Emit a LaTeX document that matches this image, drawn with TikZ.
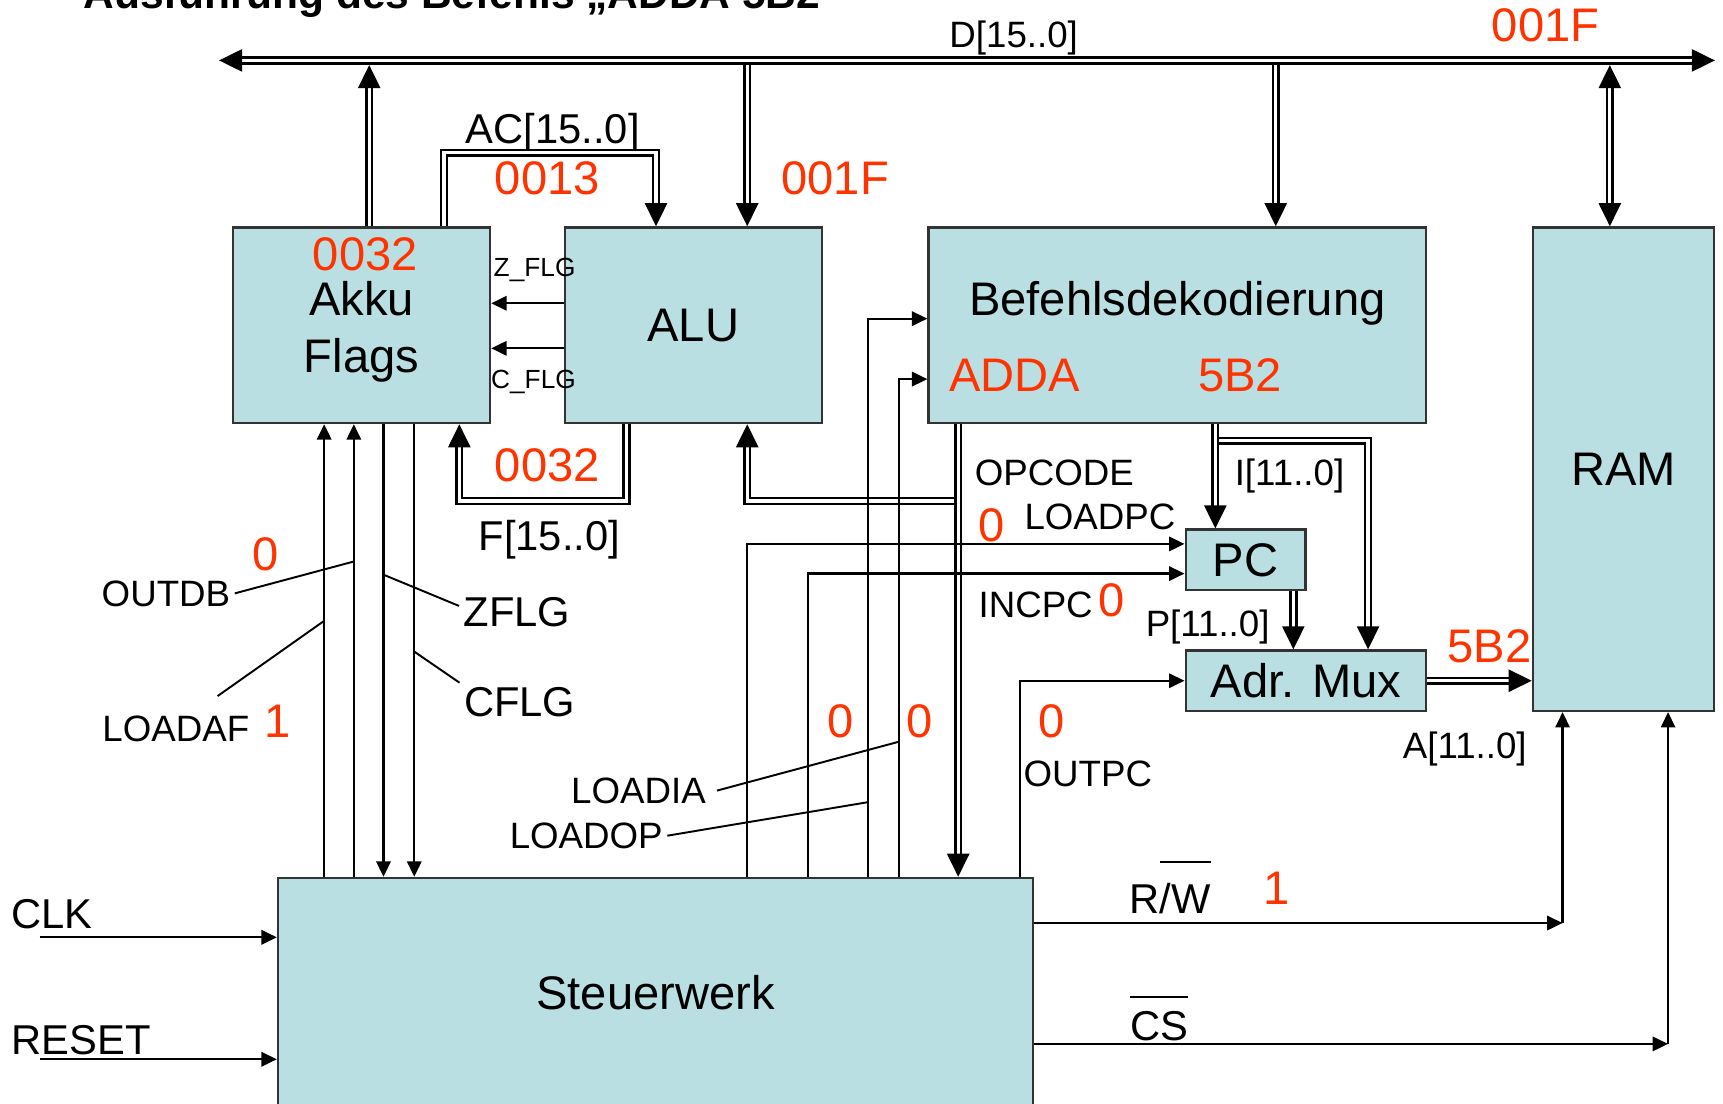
\documentclass[tikz,border=0pt]{standalone}
\usepackage{fontspec}
\setmainfont{Liberation Sans}
\usepackage{tikz}
\usetikzlibrary{arrows.meta, calc}

\definecolor{boxfill}{RGB}{185,223,226}
\definecolor{valred}{RGB}{255,51,0}

\newlength{\ovlwd}
\newcommand{\ovl}[2]{\settowidth{\ovlwd}{#2}\rlap{\rule[#1]{\ovlwd}{0.5pt}}#2}

\begin{document}
\begin{tikzpicture}[
			x=0.1mm, y=-0.1mm,
			every node/.style={inner sep=1pt},
			blk/.style={
				rectangle, draw=black!80, fill=boxfill, line width=0.6pt,
				inner sep=0pt, font=\fontsize{12.2}{14.7}\selectfont
			},
			big/.style={font=\fontsize{12.2}{14.7}\selectfont},
			mid/.style={font=\fontsize{10.8}{13}\selectfont},
			sml/.style={font=\fontsize{9.5}{11.4}\selectfont},
			tny/.style={font=\fontsize{6.8}{8.2}\selectfont},
			lbl/.style={anchor=base},
			val/.style={big, lbl, text=valred},
			busline/.style={double, line width=0.65pt, double distance=0.85pt},
			bus/.style={busline, -{Triangle[length=2.1mm,width=2mm]}},
			busboth/.style={busline, {Triangle[length=2.1mm,width=2mm]}-{Triangle[length=2.1mm,width=2mm]}},
			sig/.style={line width=0.6pt, -{Triangle[length=1.4mm,width=1.3mm]}},
			lead/.style={line width=0.5pt}
			]
			
			\useasboundingbox (0,0) rectangle (1568,1004);
			\clip (0,0) rectangle (1568,1004);
			
			% title, cut at the top edge
			\node[anchor=base west, font=\bfseries\fontsize{11}{13}\selectfont] (title) at (72,8) {Ausführung des Befehls „ADDA 5B2};
			
			% blocks
			\node[inner sep=0pt, minimum width=136mm, minimum height=0.7mm] (bus) at (880,55) {};
			\node[blk, minimum width=23.4mm, minimum height=17.8mm] (akku) at (329,296) {};
			\node[blk, minimum width=23.4mm, minimum height=17.8mm] (alu) at (631,296) {ALU};
			\node[blk, minimum width=45.3mm, minimum height=17.8mm] (dec) at (1071.5,296) {};
			\node[blk, minimum width=16.5mm, minimum height=44mm] (ram) at (1477.5,427) {RAM};
			\node[blk, minimum width=10.9mm, minimum height=5.5mm] (pc) at (1133.5,509.5) {PC};
			\node[blk, minimum width=21.9mm, minimum height=5.5mm] (mux) at (1188.5,619.5) {Adr. Mux};
			\node[blk, minimum width=68.7mm, minimum height=20.9mm] (stw) at (596.5,903.5) {Steuerwerk};
			
			\node[big, lbl] (akkutxt) at (329,287) {Akku};
			\node[big, lbl] (flagtxt) at (329,339) {Flags};
			\node[val] (akkuval) at (332.5,246) {0032};
			\node[big, lbl] (dectxt) at (1071.5,287) {Befehlsdekodierung};
			\node[val] (opval) at (923.5,356) {ADDA};
			\node[val] (adrval) at (1128.5,356) {5B2};
			
			% bus labels and values
			\node[sml, lbl] (dlbl) at (922.5,43) {D[15..0]};
			\node[val] (busval) at (1406.5,38) {001F};
			\node[mid, lbl] (aclbl) at (503,131) {AC[15..0]};
			\node[val] (acval) at (498,177) {0013};
			\node[val] (aluval) at (760,177) {001F};
			\node[tny, lbl] (zlbl) at (486.5,252) {Z\_FLG};
			\node[tny, lbl] (clbl) at (485.5,354) {C\_FLG};
			\node[val] (fval) at (498,438) {0032};
			\node[mid, lbl] (flbl) at (500,501) {F[15..0]};
			\node[sml, lbl] (oplbl) at (959.5,442) {OPCODE};
			\node[sml, lbl] (ilbl) at (1173.5,442) {I[11..0]};
			\node[sml, lbl] (plbl) at (1099,579) {P[11..0]};
			\node[val] (aval) at (1355.5,603) {5B2};
			\node[sml, lbl] (albl) at (1333,690) {A[11..0]};
			
			% control signals
			\node[val] (ldpcval) at (902.5,493) {0};
			\node[sml, lbl] (ldpc) at (1001,482) {LOADPC};
			\node[sml, lbl] (incpc) at (942.5,562) {INCPC};
			\node[val] (incval) at (1012,561) {0};
			\node[sml, lbl] (outdb) at (151,551.5) {OUTDB};
			\node[val] (outdbval) at (241.7,519.6) {0};
			\node[mid, lbl] (zflg) at (470.5,570) {ZFLG};
			\node[mid, lbl] (cflg) at (473,652) {CFLG};
			\node[sml, lbl] (loadaf) at (160,675) {LOADAF};
			\node[val] (loadafval) at (253,671) {1};
			\node[val] (lopval) at (765,671.6) {0};
			\node[val] (liaval) at (837,671.6) {0};
			\node[val] (outpcval) at (957,671.6) {0};
			\node[sml, lbl] (loadia) at (581,731) {LOADIA};
			\node[sml, lbl] (loadop) at (533.5,772) {LOADOP};
			\node[sml, lbl] (outpc) at (990,716) {OUTPC};
			\node[mid, lbl] (rwlbl) at (1065,831) {R\ovl{1.2em}{/W}};
			\node[val] (rwval) at (1162,823) {1};
			\node[mid, lbl] (cslbl) at (1055,946.5) {\ovl{1.0em}{CS}};
			\node[mid, lbl] (clklbl) at (47,844.6) {CLK};
			\node[mid, lbl] (rstlbl) at (74,960) {RESET};
			
			% data bus
			\draw[busboth] (bus.west) -- (bus.east);
			\draw[bus] ([xshift=0.7mm]akku.north) -- ([xshift=0.7mm]akku.north |- bus.south);
			\draw[bus] ([xshift=4.9mm]alu.north |- bus.south) -- ([xshift=4.9mm]alu.north);
			\draw[bus] ([xshift=8.95mm]dec.north |- bus.south) -- ([xshift=8.95mm]dec.north);
			\draw[busboth] ([xshift=-1.25mm]ram.north |- bus.south) -- ([xshift=-1.25mm]ram.north);
			
			% internal buses
			\draw[bus] ([xshift=7.5mm]akku.north) -- ++(0,-67) -| ([xshift=-3.4mm]alu.north);
			\draw[bus] ([xshift=-6.1mm]alu.south) -- ++(0,70) -| ([xshift=8.9mm]akku.south);
			\draw[bus] ([xshift=-19.95mm]dec.south) ++(0,70) -| ([xshift=4.9mm]alu.south);
			\draw[bus] ([xshift=-19.95mm]dec.south) -- ([xshift=-19.95mm]dec.south |- stw.north);
			\draw[bus] ([xshift=-2.75mm]pc.north |- dec.south) ++(0,15) -| ([xshift=5.65mm]mux.north);
			\draw[bus] ([xshift=-2.75mm]pc.north |- dec.south) -- ([xshift=-2.75mm]pc.north);
			\draw[bus] ([xshift=4.35mm]pc.south) -- ([xshift=4.35mm]pc.south |- mux.north);
			\draw[bus] (mux.east) -- (mux.east -| ram.west);
			
			% flags
			\draw[sig] ([yshift=2mm]alu.west) -- ([yshift=2mm]akku.east);
			\draw[sig] ([yshift=-2.1mm]alu.west) -- ([yshift=-2.1mm]akku.east);
			
			% Steuerwerk lines
			\draw[sig] ([xshift=-3.4mm]akku.south |- stw.north) -- ([xshift=-3.4mm]akku.south);
			\draw[sig] ([xshift=-0.7mm]akku.south |- stw.north) -- ([xshift=-0.7mm]akku.south);
			\draw[sig] ([xshift=2mm]akku.south) -- ([xshift=2mm]akku.south |- stw.north);
			\draw[sig] ([xshift=4.8mm]akku.south) -- ([xshift=4.8mm]akku.south |- stw.north);
			\draw[sig] ([xshift=8.35mm]stw.north) |- ([yshift=1.45mm]pc.west);
			\draw[sig] ([xshift=13.85mm]stw.north) |- ([yshift=-1.25mm]pc.west);
			\draw[sig] ([xshift=19.35mm]stw.north) |- ([yshift=0.6mm]dec.west);
			\draw[sig] ([xshift=22.15mm]stw.north) |- ([yshift=-4.9mm]dec.west);
			\draw[sig] ([xshift=33.15mm]stw.north) |- (mux.west);
			
			\path ([yshift=6.35mm]stw.east) coordinate (rwa) ([xshift=-5.55mm]ram.south |- rwa) coordinate (rwb);
			\draw[sig] (rwa) -- (rwb);
			\draw[sig] (rwb) -- ([xshift=-5.55mm]ram.south);
			\path ([yshift=-4.65mm]stw.east) coordinate (csa) ([xshift=4.05mm]ram.south |- csa) coordinate (csb);
			\draw[sig] (csa) -- (csb);
			\draw[sig] (csb) -- ([xshift=4.05mm]ram.south);
			
			\coordinate (clk) at (36,853);
			\coordinate (rst) at (36,964);
			\draw[sig] (clk) -- (clk -| stw.west);
			\draw[sig] (rst) -- (rst -| stw.west);
			
			% leader lines
			\coordinate (pout) at (322,511);
			\coordinate (plaf) at (295,565);
			\coordinate (pzf) at (349,523);
			\coordinate (pcf) at (377,593);
			\coordinate (plia) at (818,675);
			\coordinate (plop) at (790,730);
			\draw[lead] (outdb.east) -- (pout);
			\draw[lead] ([xshift=3.8mm,yshift=1.4mm]loadaf.north) -- (plaf);
			\draw[lead] (pzf) -- ([yshift=0.55mm]zflg.west);
			\draw[lead] (pcf) -- (cflg.north west);
			\draw[lead] ([xshift=0.6mm]loadia.east) -- (plia);
			\draw[lead] (loadop.east) -- (plop);
			
		\end{tikzpicture}
\end{document}
